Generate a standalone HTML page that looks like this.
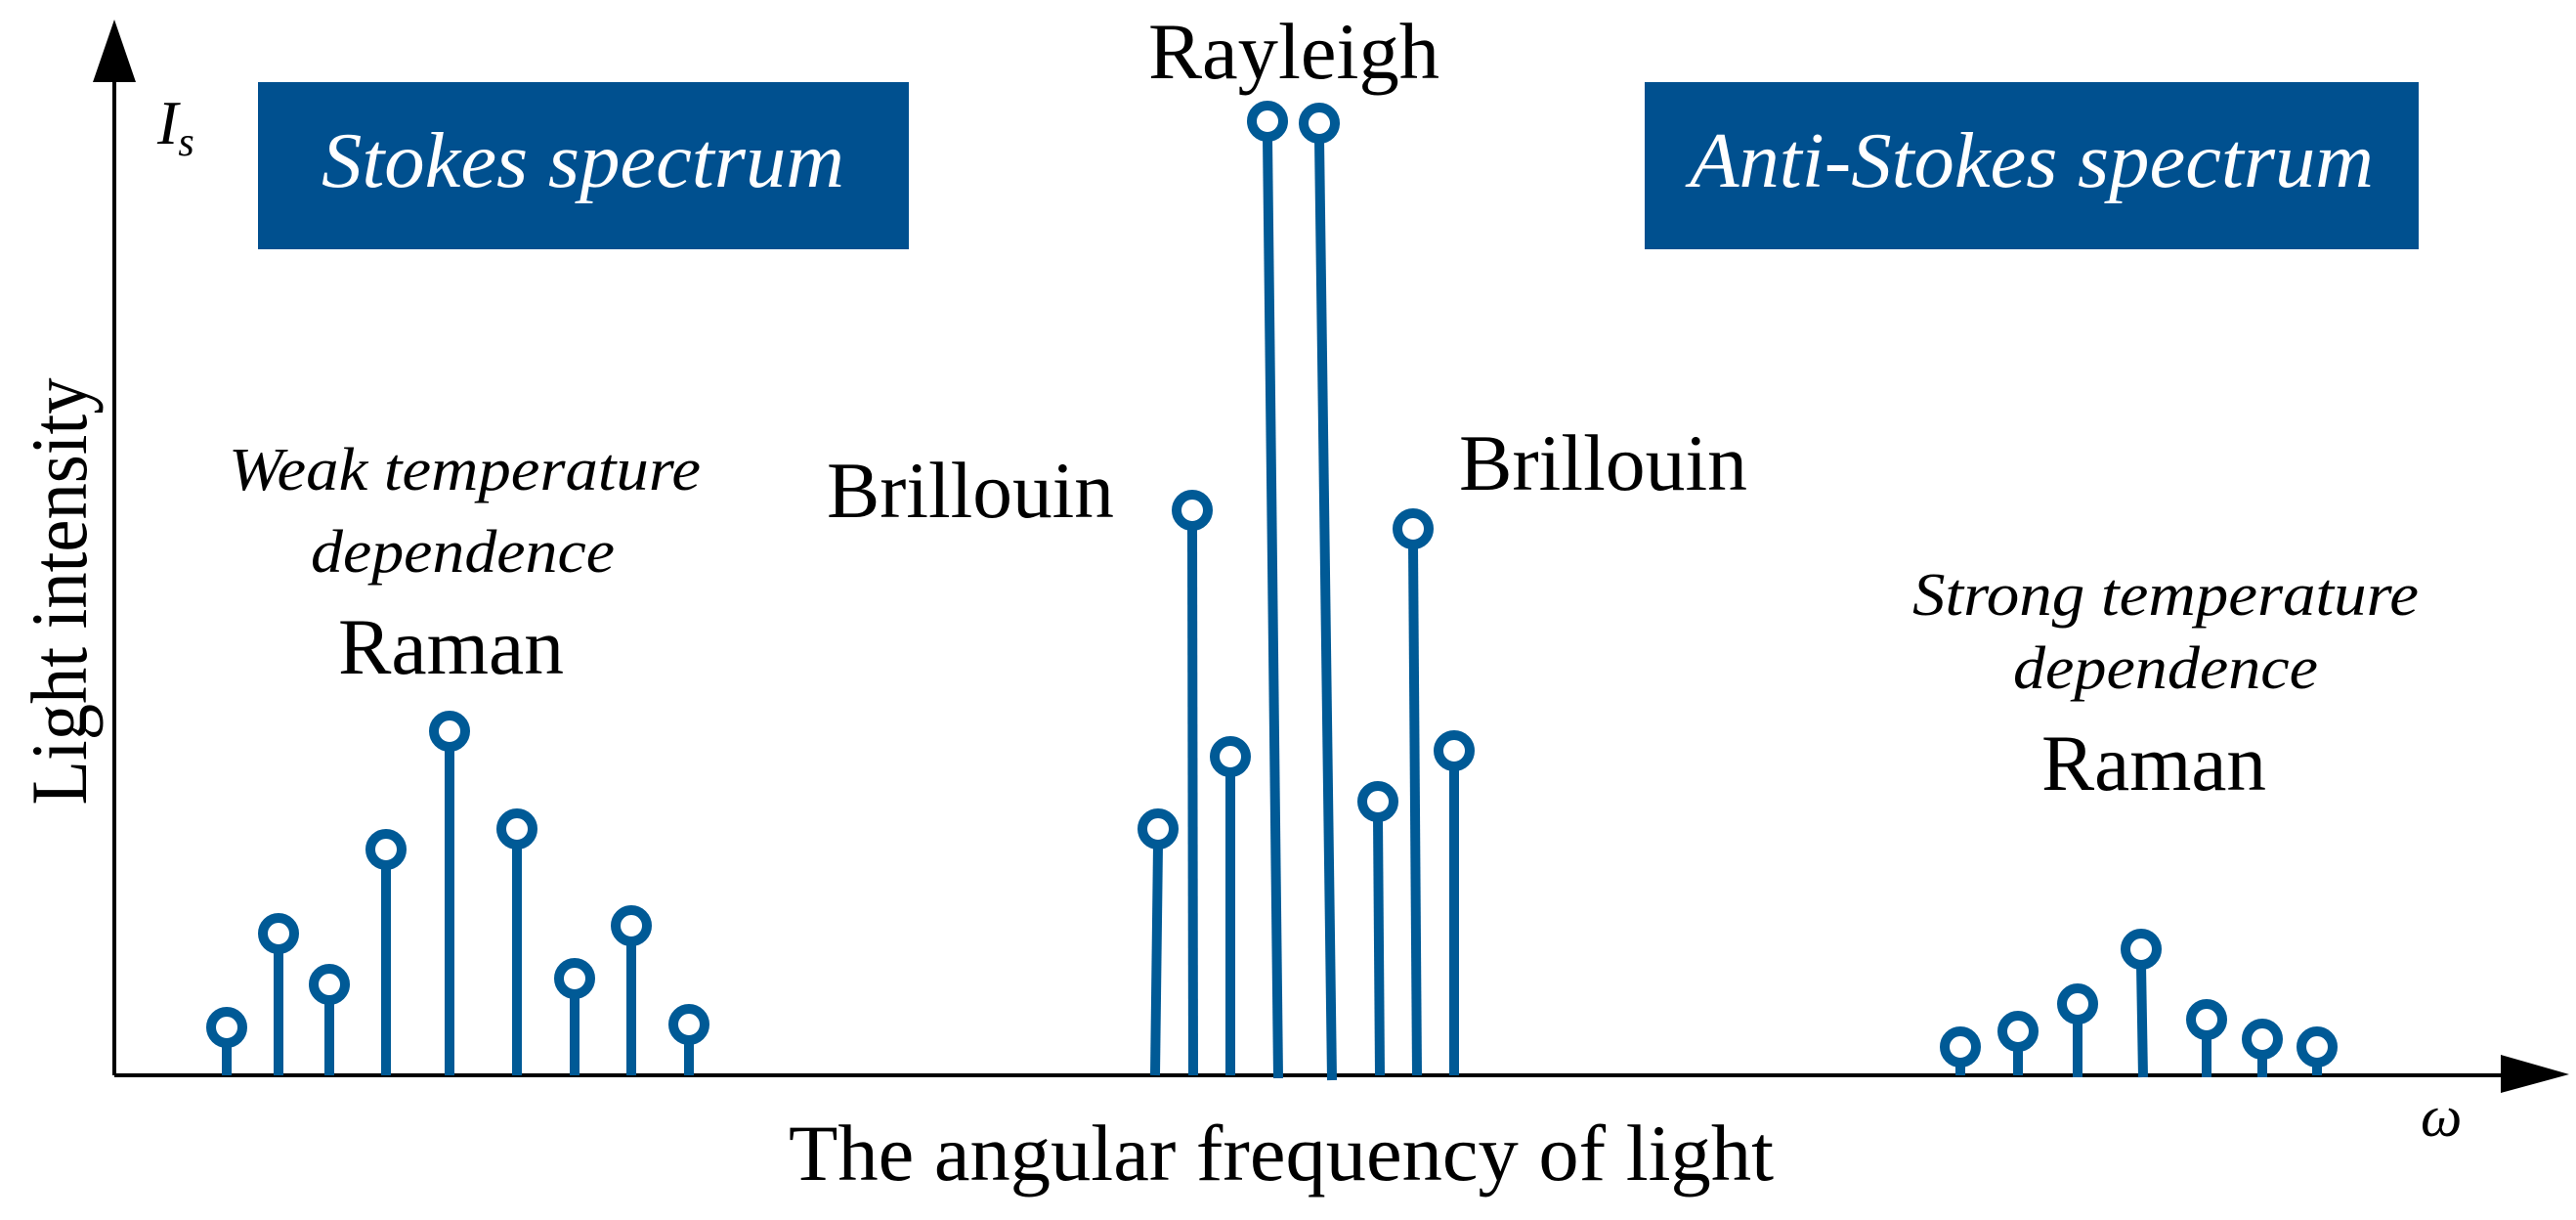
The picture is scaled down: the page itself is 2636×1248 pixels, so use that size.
<!DOCTYPE html>
<html><head><meta charset="utf-8"><style>
html,body{margin:0;padding:0;background:#fff;}
svg{display:block;}
text{font-family:"Liberation Serif",serif;}
</style></head><body>
<svg width="2636" height="1248" viewBox="0 0 2636 1248" xmlns="http://www.w3.org/2000/svg">
<rect width="2636" height="1248" fill="#fff"/>
<line x1="117" y1="1100" x2="2565" y2="1100" stroke="#000" stroke-width="4"/>
<line x1="117" y1="80" x2="117" y2="1100" stroke="#000" stroke-width="4"/>
<polygon points="95,84 139,84 117,20" fill="#000"/>
<polygon points="2559,1079 2559,1118 2629,1099" fill="#000"/>
<rect x="264" y="84" width="666" height="171" fill="#00508f"/>
<rect x="1683" y="84" width="792" height="171" fill="#00508f"/>
<text x="329" y="191" font-size="80" font-style="italic" fill="#fff" textLength="535" lengthAdjust="spacingAndGlyphs">Stokes spectrum</text>
<text x="1729" y="191" font-size="80" font-style="italic" fill="#fff" textLength="700" lengthAdjust="spacingAndGlyphs">Anti-Stokes spectrum</text>
<g stroke="#005a96" stroke-width="10" fill="#fff">
<line x1="232" y1="1067" x2="232" y2="1100"/><circle cx="232" cy="1051" r="16"/>
<line x1="285" y1="971" x2="285" y2="1100"/><circle cx="285" cy="955" r="16"/>
<line x1="337" y1="1023" x2="337" y2="1100"/><circle cx="337" cy="1007" r="16"/>
<line x1="395" y1="885" x2="395" y2="1100"/><circle cx="395" cy="869" r="16"/>
<line x1="460" y1="764" x2="460" y2="1100"/><circle cx="460" cy="748" r="16"/>
<line x1="529" y1="864" x2="529" y2="1100"/><circle cx="529" cy="848" r="16"/>
<line x1="588" y1="1017" x2="588" y2="1100"/><circle cx="588" cy="1001" r="16"/>
<line x1="646" y1="963" x2="646" y2="1100"/><circle cx="646" cy="947" r="16"/>
<line x1="705" y1="1064" x2="705" y2="1100"/><circle cx="705" cy="1048" r="16"/>

<line x1="1185" y1="864" x2="1182" y2="1100"/><circle cx="1185" cy="848" r="16"/>
<line x1="1220" y1="538" x2="1221" y2="1100"/><circle cx="1220" cy="522" r="16"/>
<line x1="1259" y1="790" x2="1259" y2="1100"/><circle cx="1259" cy="774" r="16"/>
<line x1="1297" y1="140" x2="1308" y2="1103"/><circle cx="1297" cy="124" r="16"/>
<line x1="1350" y1="142" x2="1363" y2="1105"/><circle cx="1350" cy="126" r="16"/>
<line x1="1410" y1="836" x2="1412" y2="1100"/><circle cx="1410" cy="820" r="16"/>
<line x1="1446" y1="557" x2="1450" y2="1100"/><circle cx="1446" cy="541" r="16"/>
<line x1="1488" y1="784" x2="1488" y2="1100"/><circle cx="1488" cy="768" r="16"/>

<line x1="2006" y1="1087" x2="2006" y2="1100"/><circle cx="2006" cy="1071" r="16"/>
<line x1="2065" y1="1071" x2="2065" y2="1100"/><circle cx="2065" cy="1055" r="16"/>
<line x1="2126" y1="1043" x2="2126" y2="1102"/><circle cx="2126" cy="1027" r="16"/>
<line x1="2191" y1="987" x2="2193" y2="1102"/><circle cx="2191" cy="971" r="16"/>
<line x1="2258" y1="1059" x2="2258" y2="1102"/><circle cx="2258" cy="1043" r="16"/>
<line x1="2315" y1="1079" x2="2315" y2="1102"/><circle cx="2315" cy="1063" r="16"/>
<line x1="2371" y1="1087" x2="2371" y2="1100"/><circle cx="2371" cy="1071" r="16"/>
</g>
<text x="1175" y="80" font-size="82" textLength="298" lengthAdjust="spacingAndGlyphs">Rayleigh</text>
<text x="846" y="529" font-size="82" textLength="294" lengthAdjust="spacingAndGlyphs">Brillouin</text>
<text x="1493" y="501" font-size="82" textLength="295" lengthAdjust="spacingAndGlyphs">Brillouin</text>
<text x="234" y="501" font-size="62" font-style="italic" textLength="483" lengthAdjust="spacingAndGlyphs">Weak temperature</text>
<text x="318" y="585" font-size="62" font-style="italic" textLength="311" lengthAdjust="spacingAndGlyphs">dependence</text>
<text x="346" y="689" font-size="82" textLength="231" lengthAdjust="spacingAndGlyphs">Raman</text>
<text x="1957" y="629" font-size="62" font-style="italic" textLength="518" lengthAdjust="spacingAndGlyphs">Strong temperature</text>
<text x="2060" y="704" font-size="62" font-style="italic" textLength="312" lengthAdjust="spacingAndGlyphs">dependence</text>
<text x="2089" y="808" font-size="82" textLength="230" lengthAdjust="spacingAndGlyphs">Raman</text>
<text x="807" y="1207" font-size="82" textLength="1008" lengthAdjust="spacingAndGlyphs">The angular frequency of light</text>
<text transform="translate(88,605) rotate(-90)" text-anchor="middle" font-size="82" textLength="437" lengthAdjust="spacingAndGlyphs">Light intensity</text>
<text x="161" y="147" font-size="64" font-style="italic">I<tspan font-size="42" dy="12">s</tspan></text>
<text x="2477" y="1162" font-size="60" font-style="italic">ω</text>
</svg>
</body></html>
